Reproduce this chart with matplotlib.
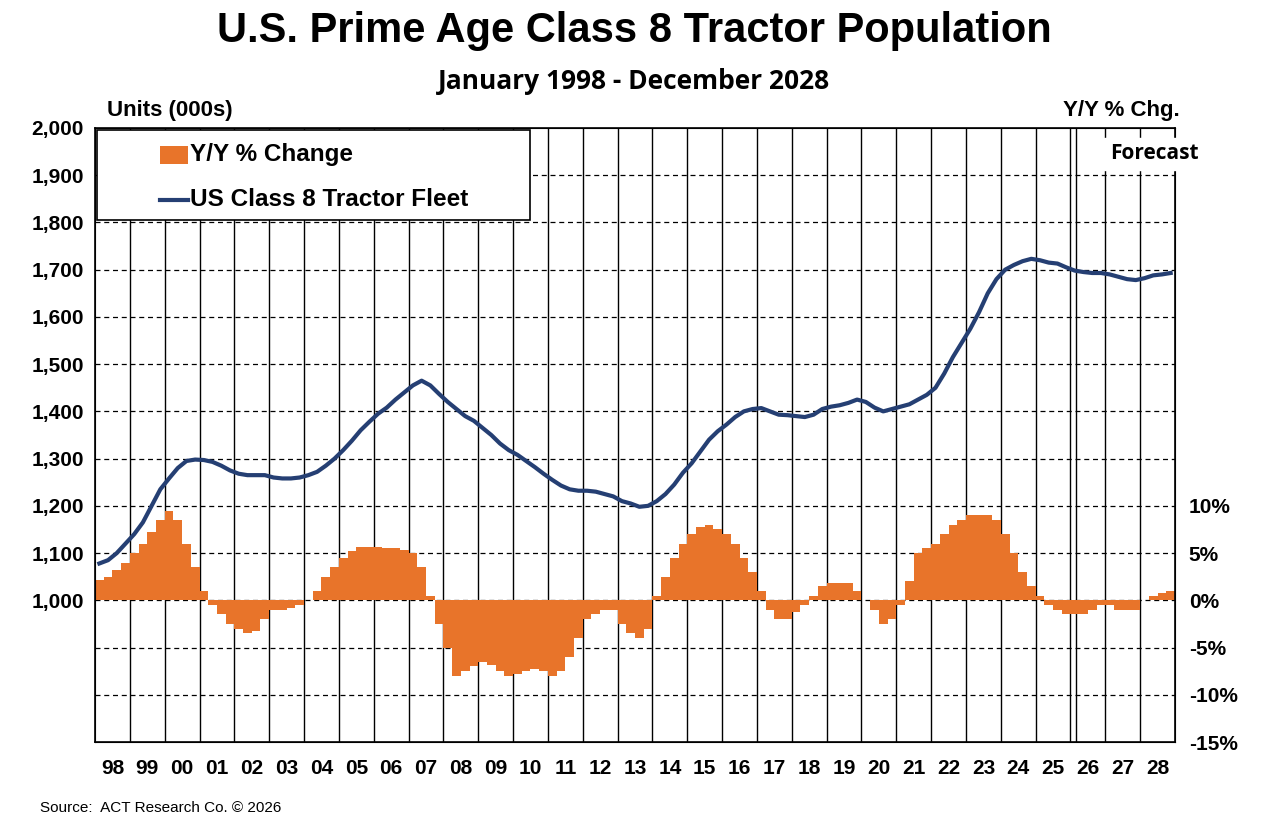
import matplotlib
matplotlib.use("Agg")
import matplotlib.pyplot as plt
import numpy as np
from matplotlib.patches import Rectangle
from matplotlib.lines import Line2D

plt.rcParams['font.family'] = ['Liberation Sans', 'DejaVu Sans']

years = list(range(1998, 2029))
year_labels = [f"{y % 100:02d}" for y in years]
fleet = [1078, 1085,1100,1120,1140, 1165,1200,1235,1258, 1280,1295,1298,1297, 1293,1285,1275,1268,
         1265,1265,1265,1260, 1258,1258,1260,1265, 1272,1285,1300,1318, 1338,1360,1378,1395,
         1408,1425,1440,1455, 1465,1455,1437,1420, 1405,1390,1380,1365, 1350,1332,1318,1308,
         1295,1282,1268,1255, 1243,1235,1232,1232, 1230,1225,1220,1210, 1205,1198,1200,1210,
         1225,1245,1270,1290, 1315,1340,1358,1372, 1388,1400,1405,1407, 1400,1393,1392,1390,
         1388,1393,1405,1410, 1413,1418,1425,1420, 1408,1400,1405,1410, 1415,1425,1435,1450,
         1480,1515,1545,1575, 1610,1650,1680,1700, 1710,1718,1723,1720, 1715,1713,1705,1698,
         1695,1693,1693,1690, 1685,1680,1678,1682, 1688,1690,1693]
yoy = [2.2, 2.5,3.2,4.0,5.0, 6.0,7.2,8.5,9.5, 8.5,6.0,3.5,1.0, -0.5,-1.5,-2.5,-3.0,
       -3.5,-3.2,-2.0,-1.0, -1.0,-0.8,-0.5,0.0, 1.0,2.5,3.5,4.5, 5.2,5.6,5.6,5.6,
       5.5,5.5,5.3,5.0, 3.5,0.5,-2.5,-5.0, -8.0,-7.5,-7.0,-6.5, -6.8,-7.5,-8.0,-7.8,
       -7.5,-7.3,-7.5,-8.0, -7.5,-6.0,-4.0,-2.0, -1.5,-1.0,-1.0,-2.5, -3.5,-4.0,-3.0,0.5,
       2.5,4.5,6.0,7.0, 7.8,8.0,7.5,7.0, 6.0,4.5,3.0,1.0, -1.0,-2.0,-2.0,-1.2,
       -0.5,0.5,1.5,1.8, 1.8,1.8,1.0,0.0, -1.0,-2.5,-2.0,-0.5, 2.0,5.0,5.5,6.0,
       7.0,8.0,8.5,9.0, 9.0,9.0,8.5,7.0, 5.0,3.0,1.5,0.5, -0.5,-1.0,-1.5,-1.5,
       -1.5,-1.0,-0.5,-0.5, -1.0,-1.0,-1.0,0.0, 0.5,0.8,1.0]
t = np.array([1998 + i * 0.25 + 0.125 for i in range(len(fleet))])

fig = plt.figure(figsize=(12.69, 8.27), dpi=100)
ax = fig.add_axes([95/1269, 85/827, 1080/1269, 614/827])
ax2 = ax.twinx()
ax.set_zorder(ax2.get_zorder() + 1)
ax.patch.set_visible(False)

orange = '#E8742A'; blue = '#253F73'
ax2.bar(t, yoy, width=0.25, color=orange, linewidth=0)
ax2.set_ylim(-15, 50)
ax2.set_yticks([-15, -10, -5, 0, 5, 10])
ax2.set_yticklabels(['-15%', '-10%', '-5%', '0%', '5%', '10%'])
ax.plot(t, fleet, color=blue, lw=3)
ax.set_ylim(700, 2000)
ax.set_xlim(1998, 2029)
ax.set_yticks(range(700, 2001, 100))
ax.set_yticklabels(['', '', ''] + [f"{v:,}" for v in range(1000, 2001, 100)])
for a in (ax, ax2):
    a.tick_params(length=0, labelsize=15)
    for lab in a.get_yticklabels():
        lab.set_fontweight('bold')
ax.tick_params(axis='y', pad=8)
ax2.tick_params(axis='y', pad=10)
for v in range(800, 2000, 100):
    ax2.axhline((v - 1000) / 20, color='black', lw=0.9, ls=(0, (4, 3)), zorder=0)
for y in range(1999, 2029):
    ax2.axvline(y, color='black', lw=1, zorder=0)
ax2.axvline(2026.15, color='black', lw=1, zorder=0)
ax.set_xticks([y + 0.5 for y in years])
ax.set_xticklabels(year_labels, fontweight='bold', fontsize=15)
ax.tick_params(axis='x', pad=12)
for s in ax.spines.values():
    s.set_linewidth(1.2)

# legend box (axes fraction)
tr = ax.transAxes
ax.add_patch(Rectangle((2/1080, 1 - 92/614), 433/1080, 90/614, transform=tr,
                       facecolor='white', edgecolor='black', lw=1.2, zorder=5))
ax.add_patch(Rectangle((65/1080, 1 - 36/614), 28/1080, 18/614, transform=tr,
                       facecolor=orange, edgecolor='none', zorder=6))
ax.add_line(Line2D([65/1080, 93/1080], [1 - 72/614] * 2, transform=tr, color=blue, lw=3, zorder=6))
ax.text(95/1080, 1 - 27/614, 'Y/Y % Change', transform=tr, fontsize=17.5, fontweight='bold',
        va='center', zorder=7)
ax.text(95/1080, 1 - 72/614, 'US Class 8 Tractor Fleet', transform=tr, fontsize=17.5,
        fontweight='bold', va='center', zorder=7)

ax.text(2028.4, 1945, 'Forecast', fontsize=15, fontweight='bold', ha='center', va='center',
        backgroundcolor='white', family=['Open Sans', 'DejaVu Sans'])
fig.text(0.5, 0.962, 'U.S. Prime Age Class 8 Tractor Population', ha='center', va='center',
         fontsize=30, fontweight='bold')
fig.text(0.5, 0.902, 'January 1998 - December 2028', ha='center', va='center',
         fontsize=19, fontweight='bold', family=['Open Sans', 'DejaVu Sans'])
fig.text(107/1269, 0.866, 'Units (000s)', ha='left', va='center', fontsize=16, fontweight='bold')
fig.text(1180/1269, 0.866, 'Y/Y % Chg.', ha='right', va='center', fontsize=16, fontweight='bold')
fig.text(40/1269, 0.015, 'Source:  ACT Research Co. © 2026', ha='left', va='bottom', fontsize=11)
fig.savefig('out.png', dpi=100)
